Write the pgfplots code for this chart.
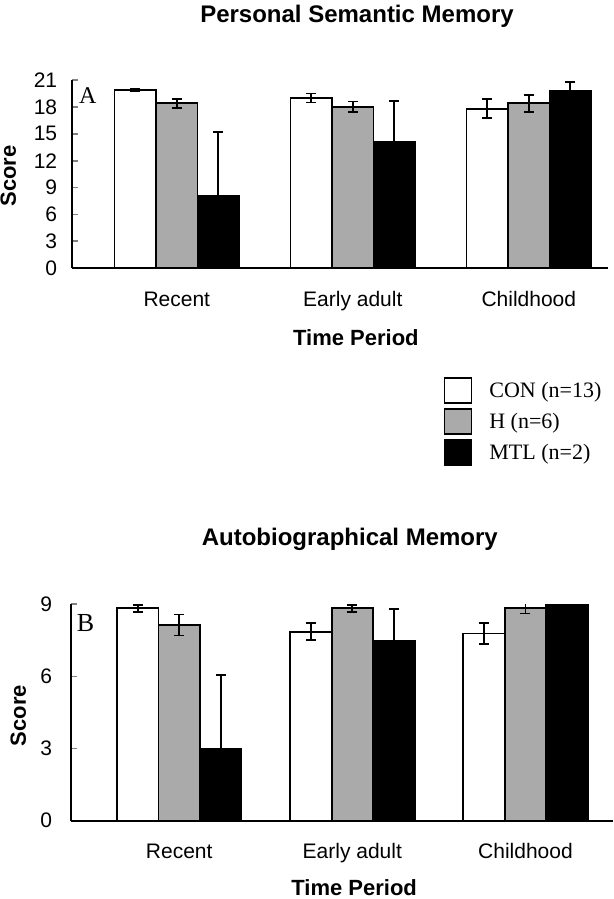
\documentclass[border=0pt]{standalone}
\usepackage{pgfplots}
\pgfplotsset{compat=1.18}
\usepackage{fontspec}
\setmainfont{Liberation Sans}
\newfontfamily\tnr{Liberation Serif}
\definecolor{bargray}{RGB}{170,170,170}

\pgfplotsset{
  myaxis/.style={
    scale only axis,
    ybar=0pt, bar width=41.5pt,
    axis x line*=bottom, axis y line*=left,
    axis line style={line width=2.2pt},
    xtick={0,1,2}, xticklabels={Recent,Early adult,Childhood},
    xtick style={draw=none},
    tick align=inside, major tick length=6pt,
    ytick style={line width=1.8pt},
    ymin=0,
    /pgf/number format/assume math mode=true,
    ticklabel style={font=\fontsize{21}{21}\selectfont},
    xticklabel style={anchor=base, yshift=-38pt},
    label style={font=\bfseries\fontsize{22}{22}\selectfont},
    title style={font=\bfseries\fontsize{24}{24}\selectfont, anchor=base, yshift=0pt},
    every axis plot/.append style={draw=black, line width=1.8pt},
    error bars/error bar style={line width=1.8pt},
    error bars/error mark options={rotate=90, mark size=5pt, line width=1.8pt},
  }
}

\begin{document}
\begin{tikzpicture}
% ---------- Panel A ----------
\begin{axis}[myaxis,
  at={(71.7pt,630.7pt)}, anchor=south west,
  width=536.3pt, height=188.3pt,
  xmin=-0.597, xmax=2.45,
  ymax=21, ytick={0,3,...,21},
  yticklabel style={anchor=east, xshift=-11pt},
  title={Personal Semantic Memory},
  title style={at={(axis description cs:0.532,1.276)}},
  xlabel={Time Period},
  xlabel style={at={(axis description cs:0.530,-0.370)}, anchor=center},
  ylabel={Score},
  ylabel style={at={(axis description cs:-0.118,0.49)}, anchor=center},
  legend style={draw=none, fill=none, at={(axis description cs:0.693,-0.577)}, anchor=north west,
    font=\tnr\fontsize{22}{22}\selectfont, row sep=4pt, inner sep=0pt,
    nodes={inner sep=1pt}, /tikz/every odd column/.append style={column sep=16pt}},
  legend cell align=left,
  legend image code/.code={\draw[#1, line width=1.8pt] (0pt,-12.2pt) rectangle (27pt,12.8pt);},
]
\addplot[fill=white, error bars/.cd, y dir=both, y explicit] coordinates {
  (0,19.9) +- (0,0.15)
  (1,19.0) +- (0,0.5)
  (2,17.8) +- (0,1.05)
};
\addplot[fill=bargray, error bars/.cd, y dir=both, y explicit] coordinates {
  (0,18.4) +- (0,0.5)
  (1,18.0) +- (0,0.6)
  (2,18.4) +- (0,0.97)
};
\addplot[fill=black, error bars/.cd, y dir=plus, y explicit] coordinates {
  (0,8.1) +- (0,7.1)
  (1,14.1) +- (0,4.6)
  (2,19.8) +- (0,1.0)
};
\legend{CON (n=13), H (n=6), MTL (n=2)}
\node[anchor=base west, font=\tnr\fontsize{24}{24}\selectfont, inner sep=0pt, fill=white] at (axis description cs:0.0136,0.876) {A};
\end{axis}

% ---------- Panel B ----------
\begin{axis}[myaxis,
  at={(70.7pt,78.3pt)}, anchor=south west,
  width=542pt, height=216.4pt,
  xmin=-0.627, xmax=2.504,
  ymax=9, ytick={0,3,6,9},
  yticklabel style={anchor=east, xshift=-15pt},
  title={Autobiographical Memory},
  title style={at={(axis description cs:0.515,1.245)}},
  xlabel={Time Period},
  xlabel style={at={(axis description cs:0.523,-0.311)}, anchor=center},
  ylabel={Score},
  ylabel style={at={(axis description cs:-0.0967,0.485)}, anchor=center},
]
\addplot[fill=white, error bars/.cd, y dir=both, y explicit] coordinates {
  (0,8.83) +- (0,0.15)
  (1,7.86) +- (0,0.36)
  (2,7.79) +- (0,0.43)
};
\addplot[fill=bargray, error bars/.cd, y dir=both, y explicit] coordinates {
  (0,8.14) +- (0,0.44)
  (1,8.83) +- (0,0.15)
  (2,8.83) +- (0,0.21)
};
\addplot[fill=black, error bars/.cd, y dir=plus, y explicit] coordinates {
  (0,3.0) +- (0,3.06)
  (1,7.47) +- (0,1.33)
  (2,9.0) +- (0,0)
};
\node[anchor=base west, font=\tnr\fontsize{26}{26}\selectfont, inner sep=0pt, fill=white] at (axis description cs:0.011,0.873) {B};
\end{axis}

\pgfresetboundingbox
\path[use as bounding box] (0pt,0pt) rectangle (613pt,899pt);
\end{tikzpicture}
\end{document}
